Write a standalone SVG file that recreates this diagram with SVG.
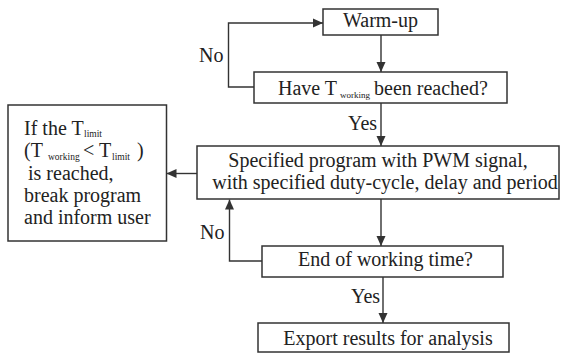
<svg xmlns="http://www.w3.org/2000/svg" width="561" height="356" viewBox="0 0 561 356">
<defs>
<style>
.box{fill:#fff;stroke:#333;stroke-width:1.5}
.ln{fill:none;stroke:#333;stroke-width:1.4}
text{font-family:'Liberation Serif','Times New Roman','DejaVu Serif',serif;font-size:20px;fill:#222}
.s{font-size:9.5px}
.c{text-anchor:middle}
</style>
<marker id="ah" markerUnits="userSpaceOnUse" markerWidth="10" markerHeight="10" refX="10" refY="5" orient="auto">
<path d="M0,0.5 L10,5 L0,9.5 z" fill="#333"/>
</marker>
</defs>
<rect width="561" height="356" fill="#fff"/>
<g id="connectors">
<line class="ln" x1="381" y1="35" x2="381" y2="72" marker-end="url(#ah)"/>
<polyline class="ln" points="254,87 228.5,87 228.5,23 323,23" marker-end="url(#ah)"/>
<line class="ln" x1="381" y1="103" x2="381" y2="146" marker-end="url(#ah)"/>
<line class="ln" x1="197" y1="173.5" x2="166.5" y2="173.5" marker-end="url(#ah)"/>
<line class="ln" x1="381" y1="199" x2="381" y2="246" marker-end="url(#ah)"/>
<polyline class="ln" points="262,261 229.5,261 229.5,199.5" marker-end="url(#ah)"/>
<line class="ln" x1="383" y1="277" x2="383" y2="323" marker-end="url(#ah)"/>
<text x="199" y="62">No</text>
<text x="200" y="239">No</text>
<text x="348" y="130">Yes</text>
<text x="351" y="303">Yes</text>
</g>
<g id="warmup">
<rect class="box" x="323" y="9" width="115" height="26"/>
<text class="c" x="380.5" y="27">Warm-up</text>
</g>
<g id="reached">
<rect class="box" x="254" y="72" width="253" height="31"/>
<text y="95"><tspan x="278">Have T</tspan><tspan class="s" x="340" dy="2.5" style="font-size:9px">working</tspan><tspan x="374" dy="-2.5">been reached?</tspan></text>
</g>
<g id="limit">
<rect class="box" x="8" y="105" width="158.5" height="136"/>
<text y="134.5"><tspan x="24">If the T</tspan><tspan class="s" x="84" dy="2.5">limit</tspan></text>
<text y="157"><tspan x="24">(T</tspan><tspan class="s" x="48" dy="2.5">working</tspan><tspan x="83" dy="-2.5">&lt; T</tspan><tspan class="s" x="112" dy="2.5">limit</tspan><tspan x="137" dy="-2.5">)</tspan></text>
<text x="28" y="180">is reached,</text>
<text x="24" y="202">break program</text>
<text x="24" y="224">and inform user</text>
</g>
<g id="pwm">
<rect class="box" x="197" y="146" width="362" height="53"/>
<text class="c" x="378" y="167">Specified program with PWM signal,</text>
<text class="c" x="385" y="189">with specified duty-cycle, delay and period</text>
</g>
<g id="end">
<rect class="box" x="262" y="246" width="241" height="31"/>
<text class="c" x="385.5" y="266">End of working time?</text>
</g>
<g id="export">
<rect class="box" x="258" y="323" width="251" height="29"/>
<text class="c" x="388" y="345">Export results for analysis</text>
</g>
</svg>
